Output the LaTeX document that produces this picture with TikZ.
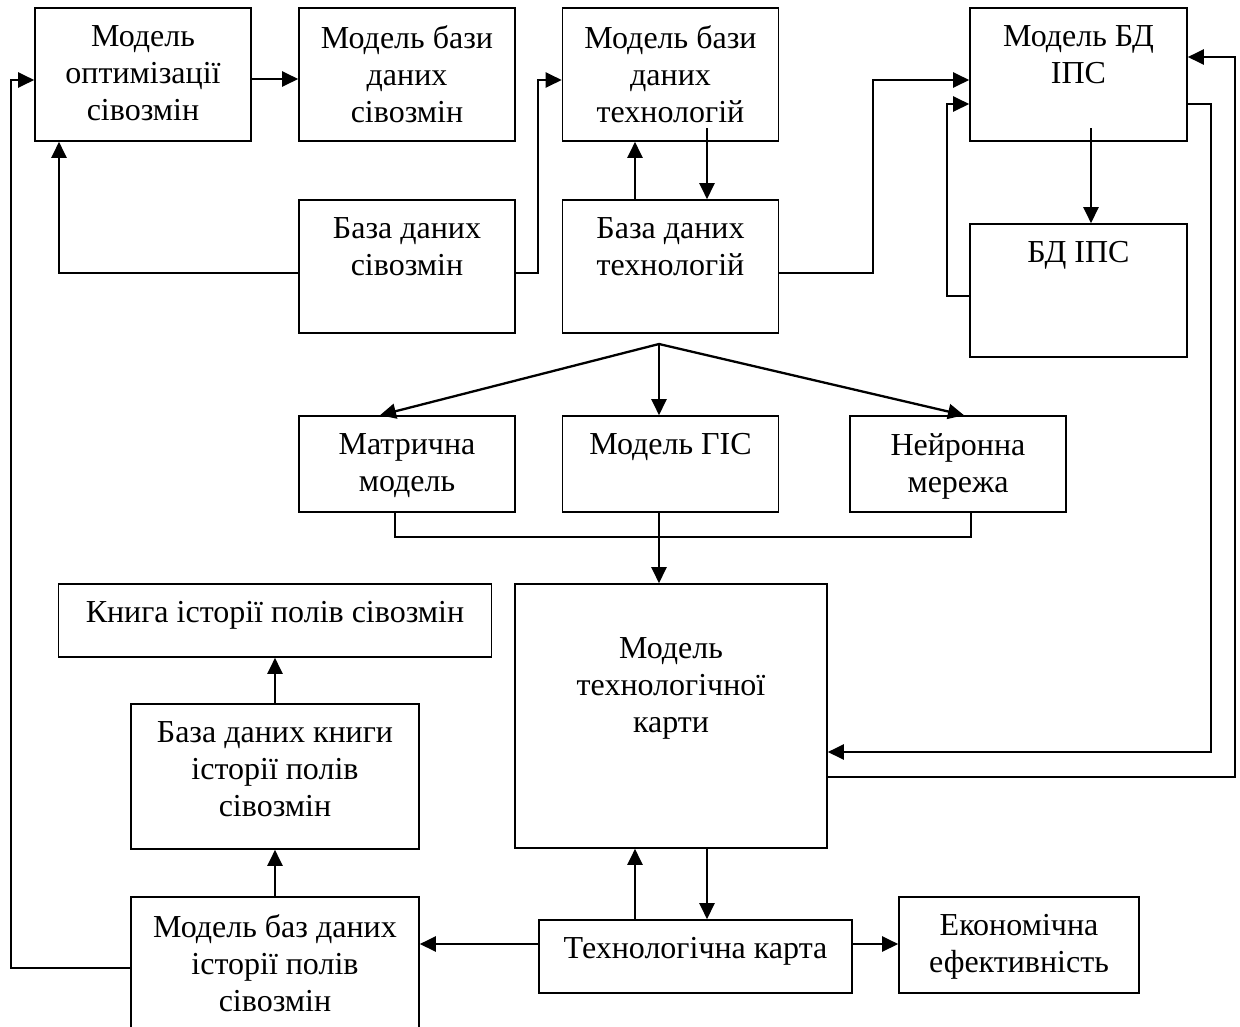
\documentclass[tikz,border=0pt]{standalone}
\usepackage{fontspec}
\setmainfont{Liberation Serif}
\usepackage{xcolor}
\usepackage{tikz}
\usetikzlibrary{calc,arrows.meta}

\begin{document}
\begin{tikzpicture}[x=1pt,y=-1pt,
		box/.style={draw,line width=1.6pt,inner sep=0pt},
		txt/.style={anchor=north,align=center,inner xsep=0pt,inner ysep=18pt,font=\fontsize{32}{37}\selectfont},
		arr/.style={line width=2.3pt,-{Triangle[length=16pt,width=15pt]}},
		ln/.style={line width=1.6pt}]
			\clip (0,0) rectangle (1240,1026);
			\fill[white] (0,0) rectangle (1240,1026);
			\node[box,minimum width=216,minimum height=133,label={[txt]north:Модель\\оптимізації\\сівозмін}] (optsiv) at (143,74.5) {};
			\node[box,minimum width=216,minimum height=133,label={[txt]north:Модель бази\\даних\\сівозмін}] (bdsivmod) at (407,74.5) {};
			\node[box,minimum width=216,minimum height=133,label={[txt]north:Модель бази\\даних\\технологій}] (techmod) at (670.5,74.5) {};
			\node[box,minimum width=217,minimum height=133,label={[txt]north:Модель БД\\ІПС}] (ipsmod) at (1078.5,74.5) {};
			\node[box,minimum width=216,minimum height=133,label={[txt]north:База даних\\сівозмін}] (sivdb) at (407,266.5) {};
			\node[box,minimum width=216,minimum height=133,label={[txt]north:База даних\\технологій}] (techdb) at (670.5,266.5) {};
			\node[box,minimum width=217,minimum height=133,label={[txt]north:БД ІПС}] (ipsdb) at (1078.5,290.5) {};
			\node[box,minimum width=216,minimum height=96,label={[txt]north:Матрична\\модель}] (matr) at (407,464) {};
			\node[box,minimum width=216,minimum height=96,label={[txt]north:Модель ГІС}] (gis) at (670.5,464) {};
			\node[box,minimum width=216,minimum height=96,label={[txt]north:Нейронна\\мережа}] (neuro) at (958,464) {};
			\node[box,minimum width=312,minimum height=264,label={[txt,inner ysep=54pt]north:Модель\\технологічної\\карти}] (mapmod) at (671,716) {};
			\node[box,minimum width=433,minimum height=73,label={[txt]north:Книга історії полів сівозмін}] (book) at (275,620.5) {};
			\node[box,minimum width=288,minimum height=145,label={[txt]north:База даних книги\\історії полів\\сівозмін}] (bookdb) at (275,776.5) {};
			\node[box,minimum width=288,minimum height=143,label={[txt]north:Модель баз даних\\історії полів\\сівозмін}] (bookmod) at (275,968.5) {};
			\node[box,minimum width=313,minimum height=73,label={[txt]north:Технологічна карта}] (map) at (695.5,956.5) {};
			\node[box,minimum width=240,minimum height=96,label={[txt]north:Економічна\\ефективність}] (econ) at (1019,945) {};
			\coordinate (split) at (659,344);
			\draw[arr] (optsiv.east |- 0,79) -- (bdsivmod.west |- 0,79);
			\draw[arr] (bookmod.west |- 0,968) -- (11,968) -- (11,80) -- (optsiv.west |- 0,80);
			\draw[arr] (sivdb.west |- 0,273) -- (59,273) -- (59,0 |- optsiv.south);
			\draw[arr] (sivdb.east |- 0,273) -- (538,273) -- (538,80) -- (techmod.west |- 0,80);
			\draw[arr] (635,0 |- techdb.north) -- (635,0 |- techmod.south);
			\draw[arr] (707,128) -- (707,0 |- techdb.north);
			\draw[arr] (techdb.east |- 0,273) -- (873,273) -- (873,80) -- (ipsmod.west |- 0,80);
			\draw[arr] (1091,128) -- (1091,0 |- ipsdb.north);
			\draw[arr] (ipsdb.west |- 0,296) -- (947,296) -- (947,104) -- (ipsmod.west |- 0,104);
			\draw[arr] (ipsmod.east |- 0,104) -- (1211,104) -- (1211,752) -- (mapmod.east |- 0,752);
			\draw[arr] (mapmod.east |- 0,777) -- (1235,777) -- (1235,57) -- (ipsmod.east |- 0,57);
			\draw[arr] (split) -- (380,0 |- matr.north);
			\draw[arr] (split) -- (split |- gis.north);
			\draw[arr] (split) -- (964,0 |- neuro.north);
			\draw[ln] (395,0 |- matr.south) -- (395,537) -- (971,537) -- (971,0 |- neuro.south);
			\draw[arr] (659,0 |- gis.south) -- (659,0 |- mapmod.north);
			\draw[arr] (635,0 |- map.north) -- (635,0 |- mapmod.south);
			\draw[arr] (707,0 |- mapmod.south) -- (707,0 |- map.north);
			\draw[arr] (map.east |- 0,944) -- (econ.west |- 0,944);
			\draw[arr] (map.west |- 0,944) -- (bookmod.east |- 0,944);
			\draw[arr] (bookmod.north) -- (bookdb.south);
			\draw[arr] (bookdb.north) -- (book.south);
		\end{tikzpicture}
\end{document}
